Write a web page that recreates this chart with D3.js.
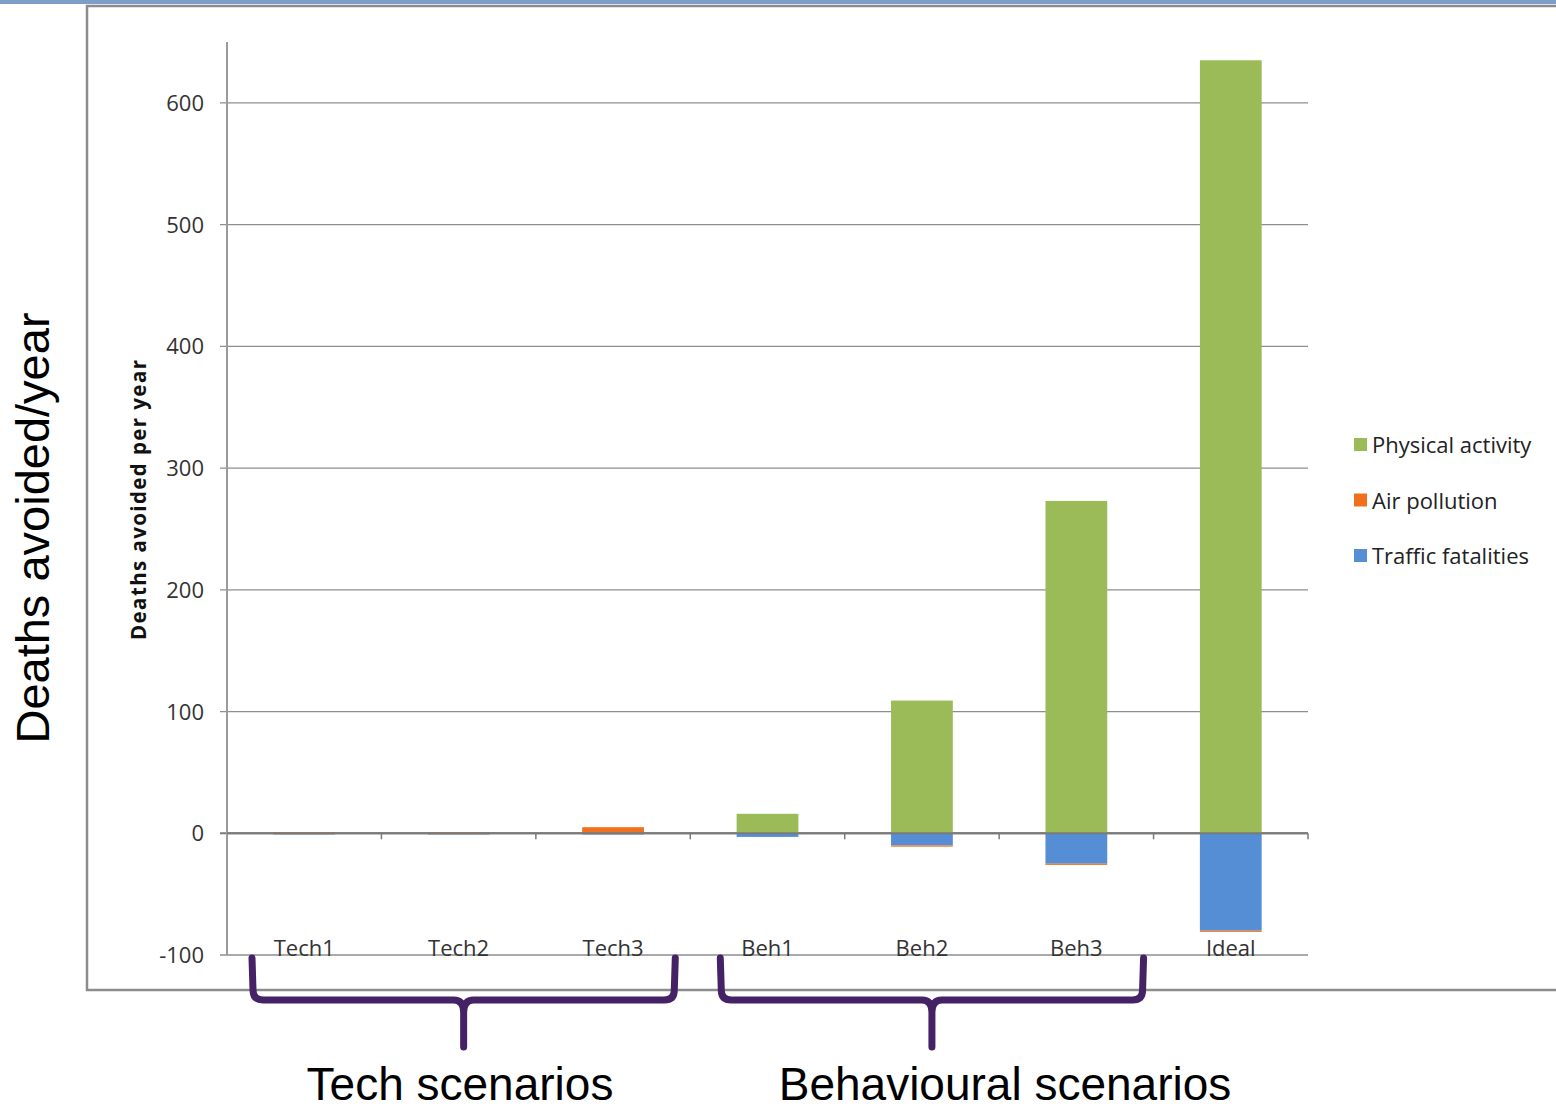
<!DOCTYPE html>
<html>
<head>
<meta charset="utf-8">
<script src="https://cdn.jsdelivr.net/npm/d3@7"></script>
<style>
  html, body { margin: 0; padding: 0; background: #fff; }
  svg { display: block; }
</style>
</head>
<body>
<svg id="chart" width="1556" height="1110"></svg>
<script>
// Scenario categories and the three components of deaths avoided per year
const categories = ["Tech1", "Tech2", "Tech3", "Beh1", "Beh2", "Beh3", "Ideal"];
const physicalActivity = [0, 0, 0, 16, 109, 273, 635];
const airPollution = [1, 1, 5, 0, -1, -1, -1];
const trafficFatalities = [-1, -1, -1, -3, -10, -25, -80];
const yTicks = [-100, 0, 100, 200, 300, 400, 500, 600];
const seriesNames = ["Physical activity", "Air pollution", "Traffic fatalities"];
const groupLabels = ["Tech scenarios", "Behavioural scenarios"];
const groupRanges = [["Tech1", "Tech3"], ["Beh1", "Beh3"]];

const colors = {
  "Physical activity": "#9bbb59",
  "Air pollution": "#f0701e",
  "Traffic fatalities": "#558ed5"
};

const rows = categories.map((c, i) => ({
  cat: c,
  "Traffic fatalities": trafficFatalities[i],
  "Air pollution": airPollution[i],
  "Physical activity": physicalActivity[i]
}));

const svg = d3.select("#chart");

// slide header strip and chart frame
svg.append("rect").attr("x", 0).attr("y", 0).attr("width", 1556).attr("height", 4).attr("fill", "#7d9ec6");
svg.append("rect").attr("x", 87).attr("y", 6).attr("width", 1480).attr("height", 984)
  .attr("fill", "#fff").attr("stroke", "#8c8c8c").attr("stroke-width", 2.5);

const plot = { left: 227, right: 1308, top: 42, bottom: 955 };

const x = d3.scaleBand().domain(categories).range([plot.left, plot.right])
  .paddingInner(0.6).paddingOuter(0.3);
const y = d3.scaleLinear().domain([-100, 650]).range([plot.bottom, plot.top]);

const step = (plot.right - plot.left) / categories.length;

// horizontal gridlines
svg.append("g").selectAll("line").data(yTicks).join("line")
  .attr("x1", plot.left - 7).attr("x2", plot.right)
  .attr("y1", d => y(d)).attr("y2", d => y(d))
  .attr("stroke", d => d === 0 ? "#7a7a7a" : "#8e8e8e")
  .attr("stroke-width", d => d === 0 ? 1.8 : 1.3);

// y axis labels
svg.append("g").selectAll("text").data(yTicks).join("text")
  .attr("x", 204).attr("y", d => y(d) + 8)
  .attr("text-anchor", "end")
  .attr("font-family", "Open Sans, sans-serif").attr("font-size", 22)
  .attr("fill", "#333").text(d => d);

// y axis line
svg.append("line").attr("x1", plot.left).attr("x2", plot.left)
  .attr("y1", plot.top).attr("y2", plot.bottom)
  .attr("stroke", "#9a9a9a").attr("stroke-width", 2);

// stacked bars
const stack = d3.stack().keys(["Traffic fatalities", "Air pollution", "Physical activity"])
  .offset(d3.stackOffsetDiverging);
const stacked = stack(rows);

svg.append("g").selectAll("g").data(stacked).join("g")
  .attr("fill", s => colors[s.key])
  .selectAll("rect").data(s => s).join("rect")
  .attr("x", d => x(d.data.cat))
  .attr("width", x.bandwidth())
  .attr("y", d => y(Math.max(d[0], d[1])))
  .attr("height", d => Math.abs(y(d[0]) - y(d[1])));

// zero line over the bars' base, with category ticks
svg.append("line").attr("x1", plot.left).attr("x2", plot.right)
  .attr("y1", y(0)).attr("y2", y(0)).attr("stroke", "#7a7a7a").attr("stroke-width", 1.8);
svg.append("g").selectAll("line").data(d3.range(1, categories.length + 1)).join("line")
  .attr("x1", i => plot.left + i * step).attr("x2", i => plot.left + i * step)
  .attr("y1", y(0)).attr("y2", y(0) + 6)
  .attr("stroke", "#7a7a7a").attr("stroke-width", 1.5);

// category labels at the bottom of the plot
svg.append("g").selectAll("text").data(categories).join("text")
  .attr("x", d => x(d) + x.bandwidth() / 2).attr("y", plot.bottom + 1)
  .attr("text-anchor", "middle")
  .attr("font-family", "Open Sans, sans-serif").attr("font-size", 22)
  .attr("fill", "#333").text(d => d);

// inner axis title
svg.append("text")
  .attr("transform", `translate(146, 500) rotate(-90)`)
  .attr("text-anchor", "middle")
  .attr("font-family", "Open Sans, sans-serif").attr("font-weight", "bold").attr("font-size", 20.5)
  .attr("textLength", 280).attr("lengthAdjust", "spacing")
  .attr("fill", "#111").text("Deaths avoided per year");

// legend
const legend = svg.append("g").selectAll("g").data(seriesNames).join("g")
  .attr("transform", (d, i) => `translate(1354, ${445 + i * 55.5})`);
legend.append("rect").attr("x", 0).attr("y", -7).attr("width", 13).attr("height", 13)
  .attr("fill", d => colors[d]);
legend.append("text").attr("x", 18).attr("y", 8)
  .attr("font-family", "Open Sans, sans-serif").attr("font-size", 22)
  .attr("fill", "#222").text(d => d);

// outer axis label
svg.append("text")
  .attr("transform", `translate(49, 528) rotate(-90)`)
  .attr("text-anchor", "middle")
  .attr("font-family", "Liberation Sans, Arial, sans-serif").attr("font-size", 47)
  .attr("fill", "#000").text("Deaths avoided/year");

// curly brackets grouping scenarios
const bracketTop = 958, bracketBar = 1000, stemEnd = 1047, r = 10;
const bracketInset = [[25, 15], [30, 10]];
const labelX = [460, 1005];
groupRanges.forEach(([from, to], gi) => {
  const x0 = plot.left + categories.indexOf(from) * step + bracketInset[gi][0];
  const x1 = plot.left + (categories.indexOf(to) + 1) * step - bracketInset[gi][1];
  const xm = (x0 + x1) / 2;
  const p = d3.path();
  p.moveTo(x0, bracketTop);
  p.lineTo(x0 + 1, bracketBar - r);
  p.quadraticCurveTo(x0 + 1, bracketBar, x0 + r + 1, bracketBar);
  p.lineTo(xm - r, bracketBar);
  p.quadraticCurveTo(xm, bracketBar, xm, bracketBar + r + 2);
  p.lineTo(xm, stemEnd);
  p.moveTo(xm, bracketBar + r + 2);
  p.quadraticCurveTo(xm, bracketBar, xm + r, bracketBar);
  p.lineTo(x1 - r - 1, bracketBar);
  p.quadraticCurveTo(x1 - 1, bracketBar, x1 - 1, bracketBar - r);
  p.lineTo(x1, bracketTop);
  svg.append("path").attr("d", p.toString())
    .attr("fill", "none").attr("stroke", "#452266").attr("stroke-width", 7)
    .attr("stroke-linecap", "round").attr("stroke-linejoin", "round");
  svg.append("text").attr("x", labelX[gi]).attr("y", 1100)
    .attr("text-anchor", "middle")
    .attr("font-family", "Liberation Sans, Arial, sans-serif").attr("font-size", 46)
    .attr("fill", "#000").text(groupLabels[gi]);
});
</script>
</body>
</html>
